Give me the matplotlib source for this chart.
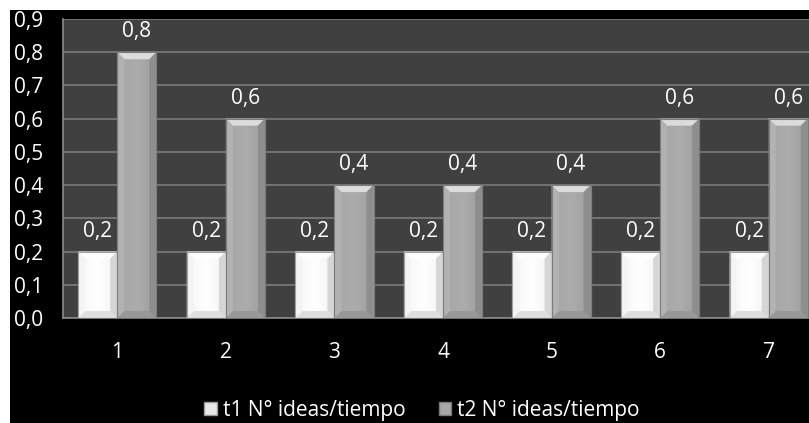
import matplotlib
matplotlib.use("Agg")
import matplotlib.pyplot as plt
import numpy as np
from matplotlib.patches import Rectangle, Polygon

# Data
categories = ["1", "2", "3", "4", "5", "6", "7"]
t1_values = [0.2, 0.2, 0.2, 0.2, 0.2, 0.2, 0.2]
t2_values = [0.8, 0.6, 0.4, 0.4, 0.4, 0.6, 0.6]
series_labels = ["t1 N° ideas/tiempo", "t2 N° ideas/tiempo"]
y_ticks = [0.0, 0.1, 0.2, 0.3, 0.4, 0.5, 0.6, 0.7, 0.8, 0.9]

FONT = "Open Sans"
FS = 15
W, H = 809, 423
fig = plt.figure(figsize=(W / 100, H / 100), dpi=100, facecolor="white")

# black chart canvas (thin white margin on top and left)
fig.patches.append(Rectangle((10 / W, 0), 1, 1 - 10 / H, transform=fig.transFigure,
                             facecolor="black", edgecolor="none", zorder=-10))

ax = fig.add_axes([63 / W, (H - 318) / H, (823 - 63) / W, (318 - 19) / H])
ax.set_zorder(1)
ax.set_facecolor("#404040")
ax.set_xlim(-0.5, len(categories) - 0.5)
ax.set_ylim(0, 0.9)

for s in ["top", "right"]:
    ax.spines[s].set_visible(False)
for s in ["left", "bottom"]:
    ax.spines[s].set_color("#8a8a8a")
    ax.spines[s].set_linewidth(1.2)

ax.set_yticks(y_ticks)
ax.set_yticklabels([f"{v:.1f}".replace(".", ",") for v in y_ticks],
                   color="white", fontsize=FS, fontfamily=FONT)
ax.set_xticks(range(len(categories)))
ax.set_xticklabels(categories, color="white", fontsize=FS, fontfamily=FONT)
ax.tick_params(axis="y", length=0, pad=14)
ax.tick_params(axis="x", length=0, pad=17)
ax.yaxis.grid(True, color="#7c7c7c", linewidth=1.2)
ax.set_axisbelow(True)

x = np.arange(len(categories))
bw = 0.36

# bevel size in data units (about 7 px)
bx = 7 * len(categories) / (823 - 63)
by = 7 * 0.9 / (318 - 19)

styles = [
    dict(body=("#f6f6f6", "#ffffff", "#f2f2f2"), top="#ffffff", left="#f4f4f4",
         right="#d6d6d6", bottom="#dedede", edge="#a0a0a0"),
    dict(body=("#a6a6a6", "#acacac", "#9e9e9e"), top="#dcdcdc", left="#b2b2b2",
         right="#8e8e8e", bottom="#989898", edge="#7c7c7c"),
]


def bevel_bar(xc, val, st):
    x0, x1 = xc - bw / 2, xc + bw / 2
    y0, y1 = 0.0, val
    rect = ax.bar(xc, val, width=bw, color=st["body"][1], edgecolor=st["edge"],
                  linewidth=0.8, zorder=3)[0]
    cmap = matplotlib.colors.LinearSegmentedColormap.from_list("b", list(st["body"]))
    grad = np.linspace(0, 1, 64).reshape(1, -1)
    im = ax.imshow(grad, extent=(x0, x1, y0, y1), cmap=cmap, aspect="auto",
                   zorder=3.1, interpolation="bicubic")
    im.set_clip_path(rect)
    polys = [
        ([(x0, y1), (x1, y1), (x1 - bx, y1 - by), (x0 + bx, y1 - by)], st["top"]),
        ([(x0, y0), (x1, y0), (x1 - bx, y0 + by), (x0 + bx, y0 + by)], st["bottom"]),
        ([(x0, y0), (x0 + bx, y0 + by), (x0 + bx, y1 - by), (x0, y1)], st["left"]),
        ([(x1, y0), (x1 - bx, y0 + by), (x1 - bx, y1 - by), (x1, y1)], st["right"]),
    ]
    for pts, c in polys:
        ax.add_patch(Polygon(pts, closed=True, facecolor=c, edgecolor="none",
                             zorder=3.2))
    ax.add_patch(Rectangle((x0, y0), bw, val, facecolor="none", edgecolor=st["edge"],
                           linewidth=0.8, zorder=3.3))
    ax.annotate(f"{val:.1f}".replace(".", ","), (xc, val), xytext=(0, 7),
                textcoords="offset points", ha="center", va="bottom",
                color="white", fontsize=FS, fontfamily=FONT, zorder=4)


for i in range(len(categories)):
    bevel_bar(x[i] - bw / 2, t1_values[i], styles[0])
    bevel_bar(x[i] + bw / 2, t2_values[i], styles[1])

ax.set_xlim(-0.5, len(categories) - 0.5)
ax.set_ylim(0, 0.9)

handles = [Rectangle((0, 0), 1, 1, facecolor="#e8e8e8", edgecolor="#9a9a9a"),
           Rectangle((0, 0), 1, 1, facecolor="#a8a8a8", edgecolor="#7a7a7a")]
leg = fig.legend(handles, series_labels, loc="center", bbox_to_anchor=(422 / W, (H - 410) / H),
                 ncol=2, frameon=False, handlelength=0.6, handleheight=0.6,
                 handletextpad=0.3, columnspacing=1.6,
                 prop={"family": FONT, "size": FS})
for t in leg.get_texts():
    t.set_color("white")

fig.savefig("out.png", dpi=100, facecolor="white")
